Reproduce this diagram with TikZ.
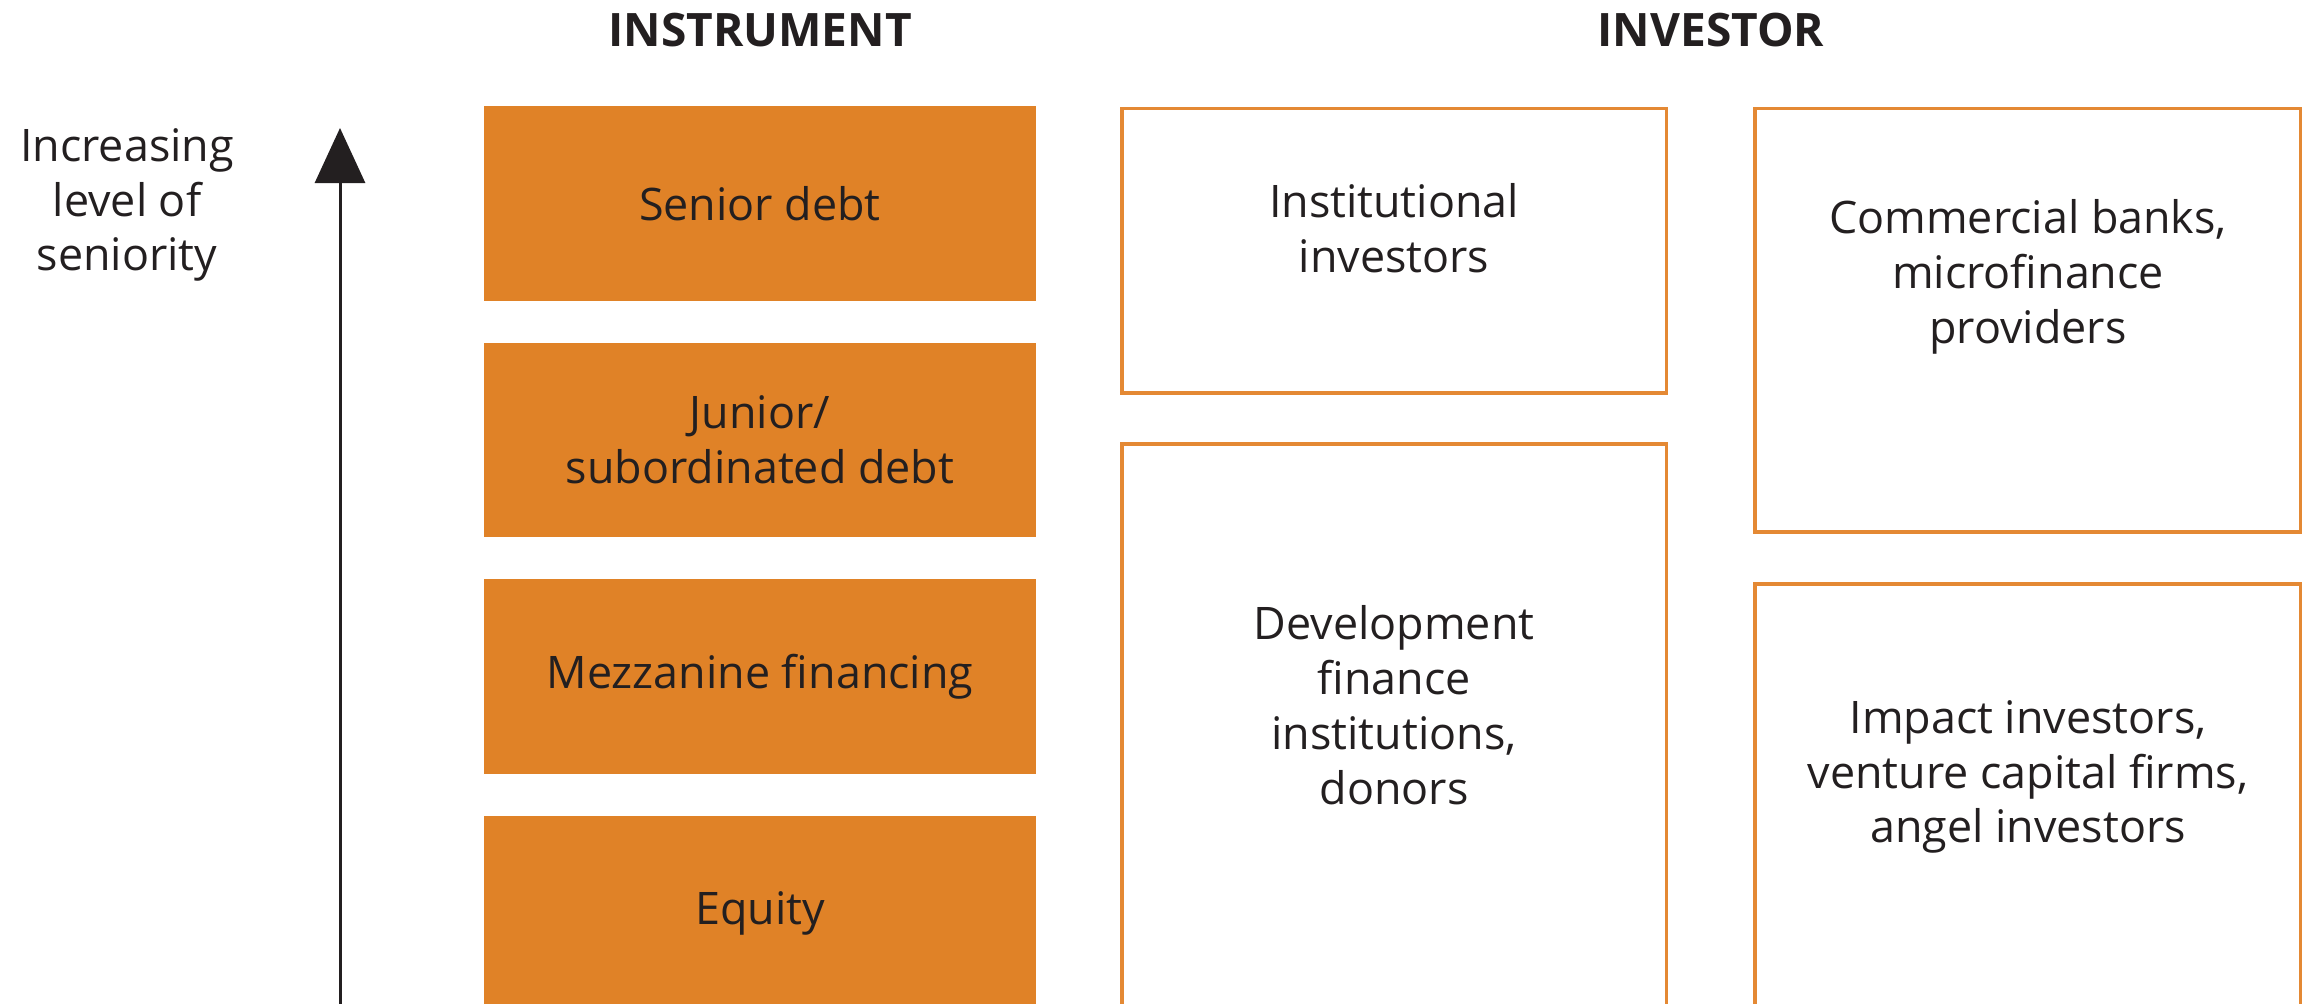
\documentclass[tikz,border=0pt]{standalone}
\usepackage{fontspec}
\setmainfont{Open Sans}
\usetikzlibrary{arrows.meta}
\definecolor{instorange}{RGB}{224,130,39}
\definecolor{invorange}{RGB}{228,137,52}
\definecolor{inktext}{RGB}{35,31,32}

\begin{document}
\begin{tikzpicture}[x=0.01cm, y=-0.01cm,
    every node/.style={text=inktext, font=\fontsize{12.75}{15.6}\selectfont},
    header/.style={font=\fontsize{13.1}{16}\selectfont\bfseries},
    instrument/.style={fill=instorange, minimum width=5.52cm, minimum height=1.94cm, align=center, inner sep=0pt},
    investor/.style={draw=invorange, line width=1pt},
    boxtext/.style={align=center}]
    \useasboundingbox (0,0) rectangle (2310,1004);

    % Headers
    \node[header, anchor=base] (instrument) at (760,47) {INSTRUMENT};
    \node[header, anchor=base] (investor) at (1711,47) {INVESTOR};

    % Seniority arrow
    \coordinate (arrowlow) at (340,1010);
    \coordinate (arrowhigh) at (340,128);
    \draw[-{Triangle[length=0.55cm,width=0.5cm]}, line width=0.03cm, inktext] (arrowlow) -- (arrowhigh);
    \node[boxtext] (seniority) at (127,205) {Increasing\\level of\\seniority};

    % Instruments
    \foreach \y/\nm/\txt in {203.5/senior/{Senior debt}, 440/junior/{Junior/\\subordinated debt},
                             676.5/mezzanine/{Mezzanine financing}, 913/equity/{Equity}}
        \node[instrument] (\nm) at (760,\y) {\txt};

    % Investors
    \draw[investor] (1121.75,108.75) rectangle (1666.25,393.25);
    \draw[investor] (1121.75,443.75) rectangle (1666.25,1100);
    \draw[investor] (1754.75,108.75) rectangle (2300.25,532.25);
    \draw[investor] (1754.75,583.75) rectangle (2300.25,1100);

    \node[boxtext] (institutional) at (1394,228) {Institutional\\investors};
    \node[boxtext] (banks) at (2028,277) {Commercial banks,\\microfinance\\providers};
    \node[boxtext] (development) at (1394,705) {Development\\finance\\institutions,\\donors};
    \node[boxtext] (impact) at (2028,777) {Impact investors,\\venture capital firms,\\angel investors};
\end{tikzpicture}
\end{document}
